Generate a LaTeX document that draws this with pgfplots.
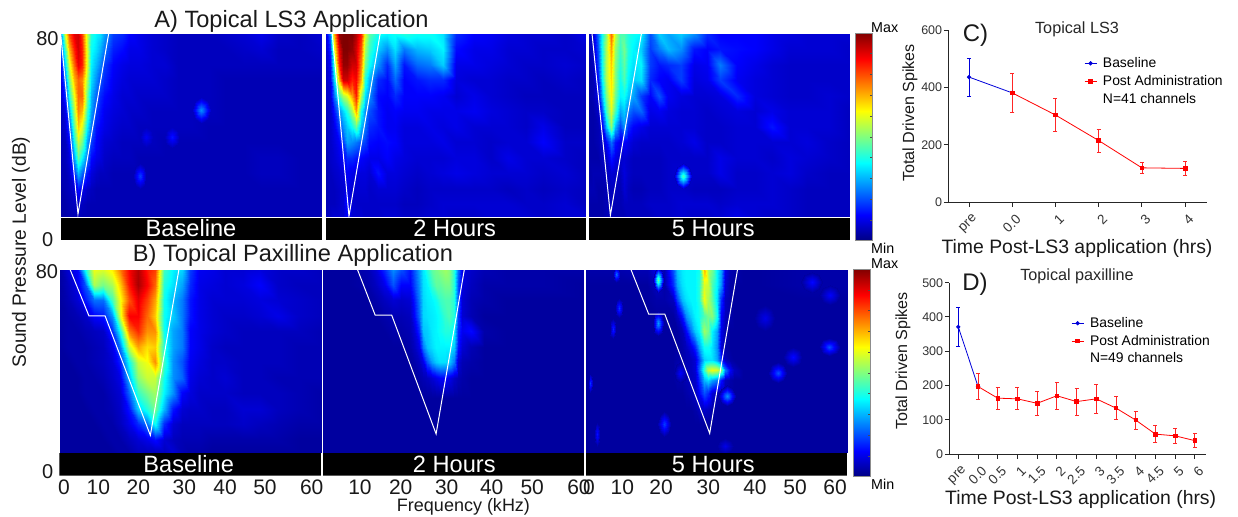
\documentclass[border=0pt]{standalone}
\usepackage{pgfplots}
\pgfplotsset{compat=1.18}
\usepackage{fontspec}
\setmainfont{Liberation Sans}
\newcommand\fs[1]{\fontsize{#1bp}{#1bp}\selectfont}
% rows of z values, 0 (Min) .. 100 (Max): builds a grid of plain coordinates
\newcommand\buildheat[3]{%
  \gdef#1{}%
  \foreach \yv/\rw in {#3}{%
    \foreach \zv [count=\i] in \rw {%
      \pgfmathparse{{#2}[\i-1]}\let\xv\pgfmathresult
      \xdef#1{#1 (\xv,\yv,\zv)}%
    }%
  }%
}
\newcommand\heatplot[2]{\edef\tmp{\noexpand\addplot3[hp,mesh/cols=#2] coordinates {#1};}\tmp}
% a small hot spot: x, y, peak z, surrounding z, half widths
\newcommand\blob[6]{%
  \pgfmathsetmacro\xa{#1-#5}\pgfmathsetmacro\xb{#1-.7*#5}\pgfmathsetmacro\xc{#1+.7*#5}\pgfmathsetmacro\xd{#1+#5}%
  \pgfmathsetmacro\ya{#2-#6}\pgfmathsetmacro\yb{#2-.7*#6}\pgfmathsetmacro\yc{#2+.7*#6}\pgfmathsetmacro\yd{#2+#6}%
  \edef\tmp{\noexpand\addplot3[bp] coordinates {
   (#1,#2,#3) (\xd,#2,#4) (\xc,\yc,#4)
   (#1,#2,#3) (\xc,\yc,#4) (#1,\yd,#4)
   (#1,#2,#3) (#1,\yd,#4) (\xb,\yc,#4)
   (#1,#2,#3) (\xb,\yc,#4) (\xa,#2,#4)
   (#1,#2,#3) (\xa,#2,#4) (\xb,\yb,#4)
   (#1,#2,#3) (\xb,\yb,#4) (#1,\ya,#4)
   (#1,#2,#3) (#1,\ya,#4) (\xc,\yb,#4)
   (#1,#2,#3) (\xc,\yb,#4) (\xd,#2,#4)};}\tmp}
\pgfplotsset{
  hp/.style={surf,shader=interp,no marks},
  bp/.style={patch,patch type=triangle,shader=interp,point meta=z,no marks},
  heatax/.style={scale only axis,width=#1,height=206bp,view={0}{90},
    xmin=0,xmax=60,ymin=0,ymax=80,colormap/jet,point meta min=2,point meta max=100,
    axis line style={draw=none},tick style={draw=none},major tick length=0pt,
    ytick=\empty,ztick=\empty,xtick=\empty,clip=true,anchor=south west,
    xticklabel style={font=\fs{21},inner sep=0pt,anchor=center,yshift=-11.6bp,text=black!90}},
  tc/.style={white,line width=1bp,no marks},
  cbar/.style={scale only axis,width=16.3bp,height=#1,view={0}{90},xmin=0,xmax=1,ymin=0,ymax=100,
    colormap/jet,point meta min=0,point meta max=100,anchor=south west,
    xtick=\empty,ztick=\empty,ytick={10,20,...,90},yticklabels={},
    axis line style={draw=black!45,line width=.5bp},
    major tick length=2.5bp,y tick style={black!70,line width=.6bp},tickpos=right,y tick label style={opacity=0}},
  linech/.style={scale only axis,anchor=south west,
    axis x line*=bottom,axis y line*=left,axis line style={black!85,line width=1bp,-},
    tick style={black!85,line width=1bp},major tick length=4.5bp,tick align=outside,
    xtick=data,clip=false,
    xticklabel style={font=\fs{13.5},rotate=45,anchor=north east,inner sep=1bp,text=black!80,xshift=-1.5bp,yshift=-5.5bp},
    yticklabel style={font=\fs{12.5},inner sep=1.5bp,text=black!80},
    /pgf/number format/assume math mode=true,
    legend cell align=left,
    legend style={draw=none,fill=none,font=\fs{13.9},row sep=2.2bp,inner sep=0pt,anchor=west},
    legend image code/.code={\draw[mark repeat=2,mark phase=2,##1] plot coordinates {(0bp,0bp) (6bp,0bp) (12bp,0bp)};\path (16bp,0bp);}},
  bl/.style={blue!85!black,line width=.8bp,mark=*,mark size=1.7bp,mark options={solid},
    error bars/.cd,y dir=both,y explicit,error bar style={line width=.8bp},error mark options={rotate=90,mark size=2bp,line width=.8bp}},
  rd/.style={red,line width=.8bp,mark=square*,mark size=1.8bp,mark options={solid},
    error bars/.cd,y dir=both,y explicit,error bar style={red!85!white,line width=.8bp},error mark options={rotate=90,red!85!white,mark size=2bp,line width=.8bp}}
}
\def\XA{0,1,2,3,4,5,6,7,8,9,10,12,14,16,18,21,24,27,30,34,38,42,46,50,55,60}
\def\XBa{0,2,4,6,8,10,12,14,16,18,20,22,24,26,28,30,32,35,38,42,46,50,55,60}
\def\XBb{0,6,10,12,14,16,18,20,21,22,23,24,25,26,27,28,29,30,31,32,34,37,42,50,60}
\def\XBc{0,5,10,14,16,18,20,21,22,23,24,25,26,27,28,29,30,31,32,33,34,36,40,50,60}
\begin{document}
\begin{tikzpicture}[x=1bp,y=-1bp]
\useasboundingbox (0,0) rectangle (1238,517);
\buildheat\Aa\XA{
80/{30,60,80,90,92,82,58,42,38,36,30,20,18,14,12,10,9,8,8,8,9,10,12,9,8,10},
74/{25,45,70,85,92,85,60,40,36,32,26,17,15,12,12,10,9,8,8,8,8,9,10,8,8,9},
68/{15,35,60,78,90,85,60,38,32,27,20,14,12,11,11,10,10,8,8,8,8,8,8,8,8,8},
62/{12,25,50,70,78,75,55,36,28,22,18,13,11,10,10,10,9,8,8,8,7,7,7,7,7,7},
56/{10,18,40,62,78,78,50,32,24,18,15,12,10,10,9,9,9,8,8,8,7,7,7,7,7,7},
50/{8,12,30,55,75,70,45,30,20,16,13,11,10,9,9,8,8,8,8,8,7,7,7,7,7,7},
44/{8,10,20,48,68,60,38,25,16,14,12,10,9,9,8,8,8,8,8,7,7,7,7,7,7,7},
38/{7,8,14,40,58,50,30,20,14,12,10,9,8,8,8,8,7,7,7,7,7,7,7,7,7,7},
32/{7,8,11,30,48,38,25,15,12,11,9,8,8,8,7,7,7,7,7,7,7,7,8,8,7,7},
26/{7,7,9,18,32,24,16,11,9,8,8,7,7,7,7,7,7,7,7,7,7,7,8,8,7,7},
20/{6,7,8,10,16,12,9,8,7,7,7,7,7,7,7,7,7,7,7,7,7,7,7,7,7,7},
14/{6,6,7,8,9,8,7,7,7,7,7,7,7,7,7,7,7,7,7,7,7,7,7,7,7,7},
9/{6,6,7,7,8,7,7,7,7,7,7,7,7,7,7,7,7,7,7,7,7,7,7,7,7,7}}
\buildheat\Ab\XA{
80/{12,25,70,98,100,100,100,95,85,60,48,40,38,40,42,40,40,36,18,14,13,11,10,10,9,12},
74/{10,18,60,90,100,100,98,92,80,55,45,34,28,36,26,32,34,38,15,12,12,10,10,9,9,10},
68/{9,14,45,85,98,98,92,92,75,50,40,28,18,30,16,24,26,34,12,12,11,10,9,9,10,9},
62/{9,12,35,70,92,92,85,88,70,42,32,18,15,24,14,16,18,18,11,10,10,9,9,8,9,8},
56/{9,10,25,45,55,60,72,85,55,36,28,15,14,18,14,14,14,13,10,12,10,9,8,8,8,8},
50/{8,9,16,28,35,42,55,72,40,28,22,16,13,14,13,13,12,12,12,13,11,10,9,9,8,8},
44/{8,9,12,20,28,34,40,48,32,25,18,16,13,13,11,11,12,11,12,10,10,10,9,12,8,8},
38/{8,9,11,14,20,30,28,26,22,20,15,14,15,14,11,11,11,12,10,10,9,10,10,14,9,9},
32/{7,9,10,12,14,18,18,16,14,13,12,12,14,12,11,10,10,10,11,11,9,12,10,10,9,8},
26/{7,8,9,10,11,14,12,11,11,11,10,16,11,11,10,9,10,11,12,11,10,10,10,9,10,8},
20/{7,8,8,9,10,12,10,10,10,10,9,10,10,10,9,8,9,9,9,9,9,8,9,8,9,8},
14/{7,8,8,9,10,16,10,9,9,9,9,9,9,9,8,8,9,10,10,10,10,10,9,9,10,8},
9/{8,9,10,10,10,14,10,10,10,9,9,9,10,10,9,9,10,10,9,9,10,10,10,9,10,10}}
\buildheat\Ac\XA{
80/{8,10,25,40,52,78,58,46,46,42,40,38,22,34,30,34,28,18,14,14,14,12,11,10,10,10},
74/{7,9,22,40,55,72,54,44,50,42,38,34,20,26,32,28,16,14,16,15,14,12,10,10,10,9},
68/{6,8,20,40,56,68,52,42,48,40,36,38,20,16,18,20,12,13,26,14,12,10,9,9,9,9},
62/{6,7,16,38,55,66,52,40,46,38,34,36,18,14,13,20,11,12,20,13,11,10,9,9,9,9},
56/{6,7,12,32,50,64,50,38,40,34,30,20,14,22,13,11,10,10,11,18,11,10,9,9,10,9},
50/{6,6,9,22,44,60,46,30,34,26,22,24,12,13,11,10,10,9,10,11,10,12,10,10,10,8},
44/{6,6,7,12,32,52,32,20,28,18,14,12,10,10,10,10,10,9,9,10,10,16,10,10,10,8},
38/{6,6,7,9,14,25,16,12,14,12,10,9,9,9,9,10,12,9,9,10,10,10,10,11,9,8},
32/{6,6,6,8,9,16,12,9,10,9,8,8,8,8,9,9,9,9,12,10,10,9,11,10,9,8},
26/{6,7,7,7,8,10,9,8,11,9,8,8,8,8,9,10,9,9,12,9,9,10,11,9,8,8},
20/{7,7,6,6,7,8,8,7,10,8,7,7,8,8,9,9,8,8,8,9,9,10,9,8,8,8},
14/{6,6,6,6,7,8,7,7,8,8,8,8,9,9,9,10,10,10,9,10,10,10,9,8,8,8},
9/{6,6,6,6,7,8,7,7,7,8,8,8,8,9,9,10,9,9,10,12,10,9,9,8,8,8}}
\buildheat\Ba\XBa{
80/{5,10,14,40,62,60,65,76,88,95,86,82,45,38,35,20,13,12,10,10,11,9,9,8},
74/{5,8,12,22,55,50,55,68,86,96,88,78,42,36,30,18,12,11,10,11,14,9,8,8},
68/{5,7,10,16,25,25,45,62,80,90,82,72,40,32,26,16,12,10,10,10,11,10,9,8},
62/{5,6,7,9,14,16,28,60,88,88,78,68,40,34,26,16,12,10,9,9,10,12,9,8},
56/{5,6,6,7,8,9,18,40,76,84,74,74,40,30,26,14,12,10,9,8,8,8,8,7},
50/{5,6,6,6,7,8,12,26,58,72,66,68,42,30,26,14,12,9,8,8,8,8,7,7},
44/{5,5,6,6,7,8,10,17,40,58,62,74,44,28,22,13,11,9,9,8,8,8,7,7},
38/{5,5,5,6,6,7,9,12,32,52,58,58,40,28,24,12,10,9,10,8,8,7,7,7},
32/{5,5,5,6,6,6,8,10,24,44,50,54,38,28,14,11,9,9,9,8,8,8,7,6},
26/{5,5,5,5,6,6,7,9,16,34,42,50,32,16,10,9,9,8,8,10,10,8,7,6},
20/{5,5,5,5,5,6,6,8,12,18,25,40,18,10,8,8,8,8,8,9,8,7,6,6},
14/{5,5,5,5,5,5,6,6,8,10,12,15,10,8,7,7,7,6,6,6,6,6,5,5},
9/{5,5,5,5,5,5,5,6,6,8,8,8,8,10,7,6,6,5,5,5,5,5,5,5}}
\buildheat\Bb\XBb{
80/{5,5,7,10,18,28,22,16,22,30,37,42,48,50,52,54,52,42,25,12,9,7,6,6,6},
74/{5,5,6,8,12,22,14,14,20,28,36,38,44,48,48,50,50,42,22,11,8,6,6,6,5},
68/{5,5,5,6,8,10,9,10,16,26,35,37,38,40,44,46,46,42,22,10,7,6,5,5,5},
62/{5,5,5,5,6,7,7,8,14,24,35,36,37,38,40,44,46,42,20,10,7,5,5,5,5},
56/{5,5,5,5,5,6,6,7,10,18,33,34,37,38,40,42,42,38,18,13,15,6,5,5,5},
50/{5,5,5,5,5,5,5,6,8,12,26,33,36,38,38,38,38,34,16,10,7,5,5,5,5},
44/{5,5,5,5,5,5,5,5,6,8,12,22,30,34,36,36,34,26,10,7,6,5,5,5,5},
38/{5,5,5,5,5,5,5,5,5,6,7,8,10,12,14,14,12,9,7,6,5,5,5,5,5},
30/{5,5,5,5,5,5,5,5,5,5,5,5,5,5,5,5,5,5,5,5,5,5,5,5,5},
9/{5,5,5,5,5,5,5,5,5,5,5,5,5,5,5,5,5,5,5,5,5,5,5,5,5}}
\buildheat\Bc\XBc{
80/{6,6,7,7,12,7,22,33,37,38,38,38,40,70,55,50,38,30,12,7,6,5,5,6,6},
74/{5,5,5,5,8,6,18,30,36,38,38,38,42,60,58,46,38,28,10,6,5,5,5,6,6},
68/{5,5,5,5,6,6,8,20,32,36,38,38,42,62,55,48,36,18,8,6,5,5,5,5,5},
62/{5,5,5,5,5,5,5,8,16,28,34,38,40,46,50,52,40,14,8,6,5,5,5,5,5},
56/{5,5,5,5,5,5,5,5,7,14,26,34,38,54,50,38,30,12,7,5,5,5,5,5,5},
50/{5,5,5,5,5,5,5,5,6,8,12,18,30,40,40,36,28,10,6,5,5,5,5,5,5},
45/{5,5,5,5,5,5,5,6,6,7,8,10,20,34,36,36,30,18,8,6,5,5,5,5,5},
41/{5,5,5,5,5,5,5,7,8,8,8,10,24,44,58,62,60,52,26,14,8,5,5,5,5},
37/{5,5,5,5,5,5,5,6,6,7,8,9,18,32,36,30,26,16,8,6,5,5,5,5,5},
32/{5,5,5,5,5,5,5,5,5,6,7,8,14,22,18,10,7,6,5,5,5,5,5,5,5},
26/{5,5,5,5,5,5,5,5,5,5,5,6,8,9,8,6,5,5,5,5,5,5,5,5,5},
20/{5,5,5,5,5,5,5,5,5,5,5,5,5,5,5,5,5,5,5,5,5,5,5,5,5},
9/{5,5,5,5,5,5,5,5,5,5,5,5,5,5,5,5,5,5,5,5,5,5,5,5,5}}
%%% ---- row A
\begin{axis}[heatax=261.3bp,at={(60.7bp,-240bp)}]
\heatplot\Aa{26}
\blob{32.3}{50.5}{28}{8}{2.2}{5}
\blob{25.5}{40}{16}{8}{1.6}{4}
\blob{19.7}{40}{13}{8}{1.6}{4}
\blob{18.2}{25}{20}{7}{1.5}{5}
\addplot3[tc] coordinates {(0,80,0) (3.97,10.1,0) (11,80,0)};
\fill[black] (axis cs:0,0,0) rectangle (axis cs:60,8.66,0);
\end{axis}
\begin{axis}[heatax=261bp,at={(325.7bp,-240bp)}]
\heatplot\Ab{26}
\addplot3[tc] coordinates {(1.5,80,0) (5.35,9.3,0) (12.5,80,0)};
\fill[black] (axis cs:0,0,0) rectangle (axis cs:60,8.66,0);
\end{axis}
\begin{axis}[heatax=261.7bp,at={(589bp,-240bp)}]
\heatplot\Ac{26}
\blob{21.6}{25}{46}{8}{2}{5}
\addplot3[tc] coordinates {(.7,80,0) (4.9,9.6,0) (12,80,0)};
\fill[black] (axis cs:0,0,0) rectangle (axis cs:60,8.66,0);
\end{axis}
\begin{axis}[cbar=207.7bp,at={(855.7bp,-240.7bp)}]
\addplot3[hp,mesh/cols=2] coordinates {(0,0,0) (1,0,0) (0,100,100) (1,100,100)};
\end{axis}
%%% ---- row B
\begin{axis}[heatax=262bp,height=206.4bp,at={(59.3bp,-475.7bp)},
  xtick={1.08,8.93,18.09,28.62,37.95,47.1,57.8},xticklabels={0,10,20,30,40,50,60}]
\heatplot\Ba{24}
\addplot3[tc] coordinates {(2.45,80,0) (6.8,61.9,0) (10.5,61.9,0) (20.85,15.66,0) (27.4,80,0)};
\fill[black] (axis cs:0,0,0) rectangle (axis cs:60,8.68,0);
\end{axis}
\begin{axis}[heatax=261bp,height=206.4bp,at={(323bp,-475.7bp)},
  xtick={8.5,17.86,28.44,38.78,48.1,58.85},xticklabels={10,20,30,40,50,60}]
\heatplot\Bb{25}
\addplot3[tc] coordinates {(7.9,80,0) (12,62.2,0) (15.8,62.2,0) (26,16.2,0) (32.5,80,0)};
\fill[black] (axis cs:0,0,0) rectangle (axis cs:60,8.68,0);
\end{axis}
\begin{axis}[heatax=261.3bp,height=206.4bp,at={(586bp,-475.7bp)},
  xtick={.69,8.34,17.22,28.08,38.8,48,57.2},xticklabels={0,10,20,30,40,50,60}]
\heatplot\Bc{25}
\blob{16.6}{76}{50}{6}{1.2}{5}
\blob{16.6}{59}{30}{5}{1.3}{5}
\blob{7}{78}{25}{6}{.8}{3}
\blob{7.6}{65}{20}{5}{.9}{4}
\blob{6.1}{57}{18}{5}{.7}{4}
\blob{1}{36}{20}{5}{.6}{4}
\blob{2.5}{16}{16}{5}{.6}{5}
\blob{18}{20}{20}{5}{1.6}{5}
\blob{21.6}{40}{14}{5}{1.5}{4}
\blob{32.4}{31}{28}{5}{2}{4}
\blob{44}{40}{22}{5}{2.2}{4}
\blob{47.5}{46}{15}{5}{2.2}{4}
\blob{55.9}{50}{22}{5}{2.4}{3.5}
\blob{51.8}{75}{15}{5}{2.4}{4}
\blob{56}{70}{14}{5}{2.4}{4}
\blob{41}{61}{12}{5}{2.4}{5}
\blob{32}{11.5}{12}{5}{2}{3}
\addplot3[tc] coordinates {(10.3,80,0) (14.4,62.6,0) (18.1,62.6,0) (28.4,16.4,0) (34.8,80,0)};
\fill[black] (axis cs:0,0,0) rectangle (axis cs:60,8.68,0);
\end{axis}
\begin{axis}[cbar=207.4bp,at={(853.7bp,-476.7bp)}]
\addplot3[hp,mesh/cols=2] coordinates {(0,0,0) (1,0,0) (0,100,100) (1,100,100)};
\end{axis}
%%% ---- panel C
\begin{axis}[linech,at={(948.3bp,-202.3bp)},width=258.4bp,height=172.3bp,
  xmin=-.48,xmax=5.5,ymin=0,ymax=600,ytick={0,200,400,600},
  xtick={0,1,2,3,4,5},xticklabels={pre,0.0,1,2,3,4},
  legend style={at={(axis cs:2.66,422)}}]
\addplot+[bl] coordinates {(0,436) +- (0,66) (1,381) +- (0,0)};
\addplot+[rd] coordinates {(1,381) +- (0,69) (2,304) +- (0,57) (3,215) +- (0,40) (4,120) +- (0,18) (5,118) +- (0,26)};
\addlegendimage{empty legend}
\legend{Baseline,Post Administration,N=41 channels}
\end{axis}
%%% ---- panel D
\begin{axis}[linech,at={(949.3bp,-454bp)},width=256.4bp,height=171.3bp,
  xmin=-.456,xmax=12.55,ymin=0,ymax=500,ytick={0,100,...,500},
  xtick={0,...,12},xticklabels={pre,0.0,0.5,1,1.5,2,2.5,3,3.5,4,4.5,5,6},
  legend style={at={(axis cs:5.72,330)}}]
\addplot+[bl] coordinates {(0,371) +- (0,57) (1,197) +- (0,0)};
\addplot+[rd] coordinates {(1,197) +- (0,38) (2,163) +- (0,32) (3,161) +- (0,32) (4,148) +- (0,34) (5,170) +- (0,39) (6,153) +- (0,39) (7,161) +- (0,43) (8,134) +- (0,34) (9,99) +- (0,26) (10,58) +- (0,25) (11,53) +- (0,23) (12,39) +- (0,20)};
\addlegendimage{empty legend}
\legend{Baseline,Post Administration,N=49 channels}
\end{axis}
%%% ---- texts
\node[font=\fs{23.6},text=black!90] at (291.5,21) {A) Topical LS3 Application};
\node[font=\fs{23.6},text=black!90] at (293,255) {B) Topical Paxilline Application};
\foreach \lx/\ly/\t in {191/228.5/Baseline,454.7/228.5/2 Hours,713.3/228.5/5 Hours,188.7/464/Baseline,454.3/464/2 Hours,713.3/464/5 Hours}
  \node[font=\fs{23.6},text=white,inner sep=0pt] at (\lx,\ly) {\t};
\foreach \lx/\ly/\t in {47.5/38.5/80,47.7/239.3/0,47/271.7/80,47.7/471.7/0}
  \node[font=\fs{20},text=black!90,inner sep=0pt] at (\lx,\ly) {\t};
\node[font=\fs{19.2},rotate=90,text=black!90] at (21,252) {Sound Pressure Level (dB)};
\node[font=\fs{18},text=black!90] at (463.5,506.7) {Frequency (kHz)};
\foreach \ly/\t in {28/Max,248/Min,263.3/Max,484/Min}
  \node[font=\fs{14.3},anchor=west,inner sep=0pt] at (871,\ly) {\t};
\node[font=\fs{24},text=black!90] at (975.5,35) {C)};
\node[font=\fs{24},text=black!90] at (975,284) {D)};
\node[font=\fs{16.2},text=black!85] at (1077,29) {Topical LS3};
\node[font=\fs{16.2},text=black!85] at (1077,276) {Topical paxilline};
\node[font=\fs{16.1},rotate=90,text=black!90] at (910,113) {Total Driven Spikes};
\node[font=\fs{16.1},rotate=90,text=black!90] at (903,361) {Total Driven Spikes};
\node[font=\fs{19.4},text=black!90] at (1077,248) {Time Post-LS3 application (hrs)};
\node[font=\fs{19.4},text=black!90] at (1080.7,499) {Time Post-LS3 application (hrs)};
\end{tikzpicture}
\end{document}
